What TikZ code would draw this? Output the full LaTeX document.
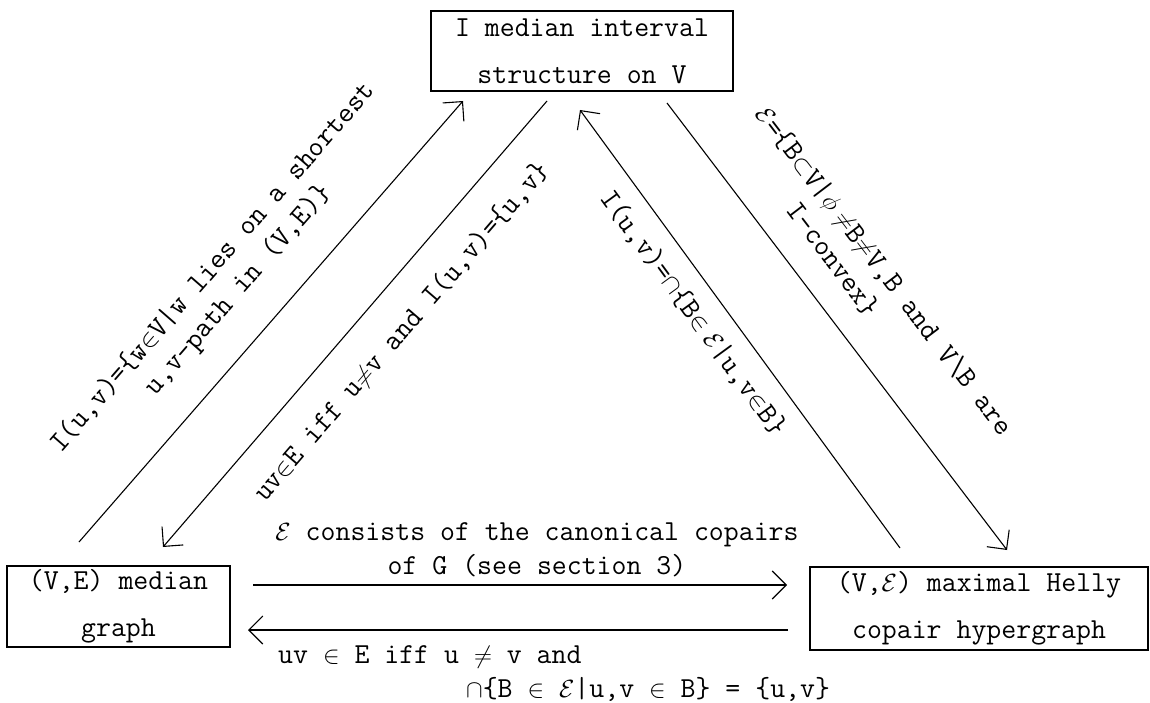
\documentclass[tikz,border=0pt]{standalone}
\usetikzlibrary{arrows.meta}
\begin{document}
\begin{tikzpicture}[x=1pt,y=-1pt,
  txt/.style={font=\fontsize{29}{34}\selectfont\ttfamily, inner sep=0pt},
  box/.style={draw, line width=1.3pt, font=\fontsize{29}{47}\selectfont\ttfamily, align=center, inner sep=0pt},
  conn/.style={line width=1.1pt, -{Straight Barb[length=14pt,width=28pt,line width=1.1pt]}},
  lab/.style={txt, align=center}]
\useasboundingbox (0,0) rectangle (1150,703);
% boxes
\node[box, minimum width=302pt, minimum height=80pt] (I) at (582,51) {I median interval\\structure on V};
\node[box, minimum width=223pt, minimum height=81pt] (G) at (118.5,606.5) {(V,E) median\\graph};
\node[box, minimum width=338pt, minimum height=83pt] (H) at (979,608.5) {(V,$\mathcal{E}$) maximal Helly\\copair hypergraph};
% end points
\coordinate (a1s) at (79,542);  \coordinate (a1e) at (463,101);
\coordinate (a2s) at (547,101); \coordinate (a2e) at (163,547);
\coordinate (a3s) at (900,548); \coordinate (a3e) at (580,110);
\coordinate (a4s) at (667,103); \coordinate (a4e) at (1007,550);
\coordinate (a5s) at (253,585); \coordinate (a5e) at (787,585);
\coordinate (a6s) at (788,630); \coordinate (a6e) at (248,630);
% connectors
\draw[conn] (a1s) -- (a1e);
\draw[conn] (a2s) -- (a2e);
\draw[conn] (a3s) -- (a3e);
\draw[conn] (a4s) -- (a4e);
\draw[conn] (a5s) -- (a5e);
\draw[conn] (a6s) -- (a6e);
% labels
\node[lab, rotate=49] (l1) at (226,279) {I(u,v)=\{w$\in$V|w lies on a shortest\\u,v-path in (V,E)\}};
\node[lab, rotate=49.3] (l2) at (402,332) {uv$\in$E iff u$\neq$v and I(u,v)=\{u,v\}};
\node[lab, rotate=-53.85] (l3) at (693,313) {I(u,v)=$\cap$\{B$\in\mathcal{E}$|u,v$\in$B\}};
\node[txt, align=left, rotate=-52.7] (l4) at (871,281) {$\mathcal{E}$=\{B$\subset$V|$\phi\neq$B$\neq$V,B and V\textbackslash B are\\\hspace*{95pt}I-convex\}};
\node[lab] (l5) at (537,550) {$\mathcal{E}$ consists of the canonical copairs\\of G (see section 3)};
\node[txt, align=left, anchor=west] (l6) at (278,674) {uv $\in$ E iff u $\neq$ v and\\\hspace*{188pt}$\cap$\{B $\in$ $\mathcal{E}$|u,v $\in$ B\} = \{u,v\}};
\end{tikzpicture}
\end{document}
